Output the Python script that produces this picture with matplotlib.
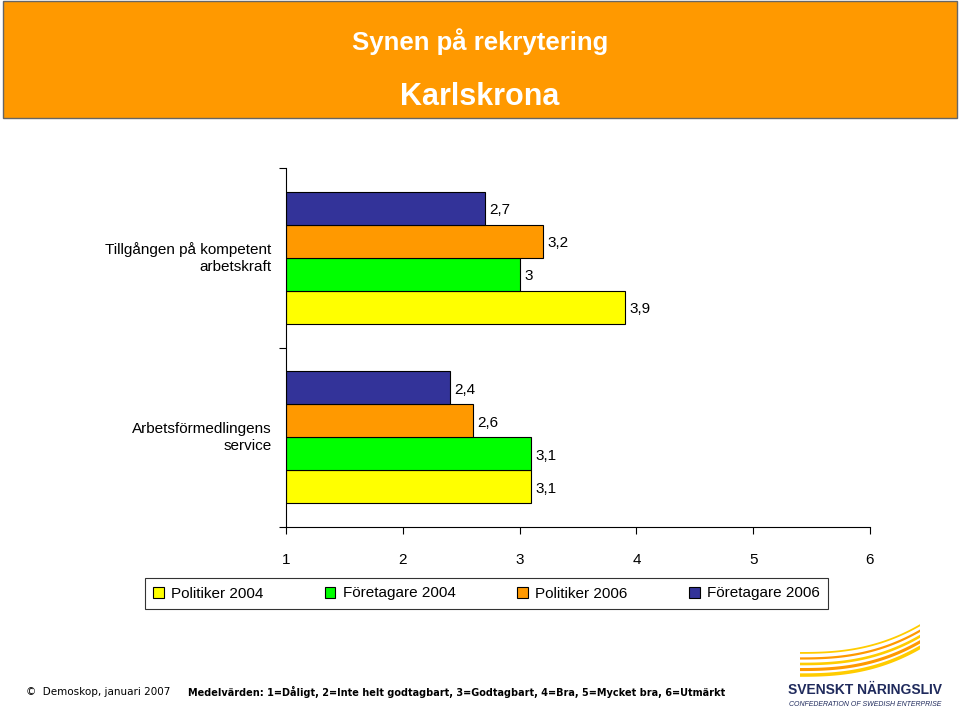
import numpy as np
import matplotlib.pyplot as plt
from matplotlib.patches import Rectangle

# === data ===
categories = ["Tillgången på kompetent\narbetskraft", "Arbetsförmedlingens\nservice"]
series = ["Politiker 2004", "Företagare 2004", "Politiker 2006", "Företagare 2006"]
colors = ["#FFFF00", "#00FF00", "#FF9900", "#333399"]
politiker_2004 = [3.9, 3.1]
foretagare_2004 = [3.0, 3.1]
politiker_2006 = [3.2, 2.6]
foretagare_2006 = [2.7, 2.4]
values = [politiker_2004, foretagare_2004, politiker_2006, foretagare_2006]
xticks = [1, 2, 3, 4, 5, 6]

W, H = 960, 711
FONT = "Liberation Sans"
fig = plt.figure(figsize=(W / 100, H / 100), dpi=100)
fig.patch.set_facecolor("white")

# header
fig.add_artist(Rectangle((3 / W, 1 - 118 / H), 954 / W, 117 / H, transform=fig.transFigure,
                         facecolor="#FF9900", edgecolor="#666666", lw=1))
fig.text(0.5, 1 - 42 / H, "Synen på rekrytering", ha="center", va="center",
         color="white", fontsize=18.5, fontweight="bold", family=FONT)
fig.text(0.5, 1 - 97 / H, "Karlskrona", ha="center", va="center",
         color="white", fontsize=22, fontweight="bold", family=FONT)

# main axes
ax = fig.add_axes([286 / W, 1 - 527 / H, 584 / W, 359 / H])
bh = 0.184
for ci in range(len(categories)):
    center = 0.5 + ci
    for si in range(len(series)):
        # yellow at the bottom, blue at the top
        y = center + (1.5 - si) * bh
        v = values[si][ci]
        ax.barh(y, v - 1, left=1, height=bh, color=colors[si], edgecolor="black", lw=0.8)
        ax.text(v + 0.04, y + 0.01, f"{v:g}".replace(".", ","), ha="left", va="center",
                fontsize=11, family=FONT)

ax.set_xlim(1, 6)
ax.set_ylim(2, 0)
ax.spines["top"].set_visible(False)
ax.spines["right"].set_visible(False)
ax.set_xticks(xticks)
ax.set_xticklabels([str(t) for t in xticks], fontsize=11, family=FONT)
ax.tick_params(axis="x", direction="out", length=5, pad=14)
ax.set_yticks([0, 1, 2])
ax.set_yticklabels([])
ax.tick_params(axis="y", direction="out", length=5)
for ci, c in enumerate(categories):
    ax.text(-0.025, 1 - (0.5 + ci) / 2, c, transform=ax.transAxes, ha="right", va="center",
            fontsize=11, family=FONT, linespacing=1.3)

# legend
handles = [Rectangle((0, 0), 1, 1, facecolor=c, edgecolor="black", lw=0.8) for c in colors]
leg = fig.legend(handles, series, loc="center", bbox_to_anchor=(486.5 / W, 1 - 593.5 / H),
                 ncol=4, frameon=True, fancybox=False, edgecolor="black",
                 prop={"family": FONT, "size": 11},
                 handlelength=0.7, handleheight=0.7, handletextpad=0.5, columnspacing=4.0,
                 borderpad=0.55)
leg.get_frame().set_linewidth(0.8)

# footer
fig.text(26 / W, 1 - 692 / H, "©  Demoskop, januari 2007", ha="left", va="center",
         fontsize=7.5, family="DejaVu Sans")
fig.text(188 / W, 1 - 692 / H,
         "Medelvärden: 1=Dåligt, 2=Inte helt godtagbart, 3=Godtagbart, 4=Bra, 5=Mycket bra, 6=Utmärkt",
         ha="left", va="center", fontsize=7, fontweight="bold", family="DejaVu Sans")

# logo
lax = fig.add_axes([800 / W, 1 - 682 / H, 120 / W, 60 / H])
lax.axis("off")
t = np.linspace(0, 1, 50)
for k, col in enumerate(["#FFCC00", "#FF9900", "#FFCC00", "#FF9900", "#FFCC00"]):
    lax.plot(t, 0.15 + k * 0.12 + 0.6 * t ** 2.5, color=col, lw=2.5 - k * 0.3)
lax.set_xlim(0, 1)
lax.set_ylim(0, 1.3)
fig.text(865 / W, 1 - 690 / H, "SVENSKT NÄRINGSLIV", ha="center", va="center",
         fontsize=10, fontweight="bold", color="#1F2A5C", family=FONT)
fig.text(865 / W, 1 - 704 / H, "CONFEDERATION OF SWEDISH ENTERPRISE", ha="center", va="center",
         fontsize=5, style="italic", color="#1F2A5C", family=FONT)

fig.savefig("out.png", dpi=100)
